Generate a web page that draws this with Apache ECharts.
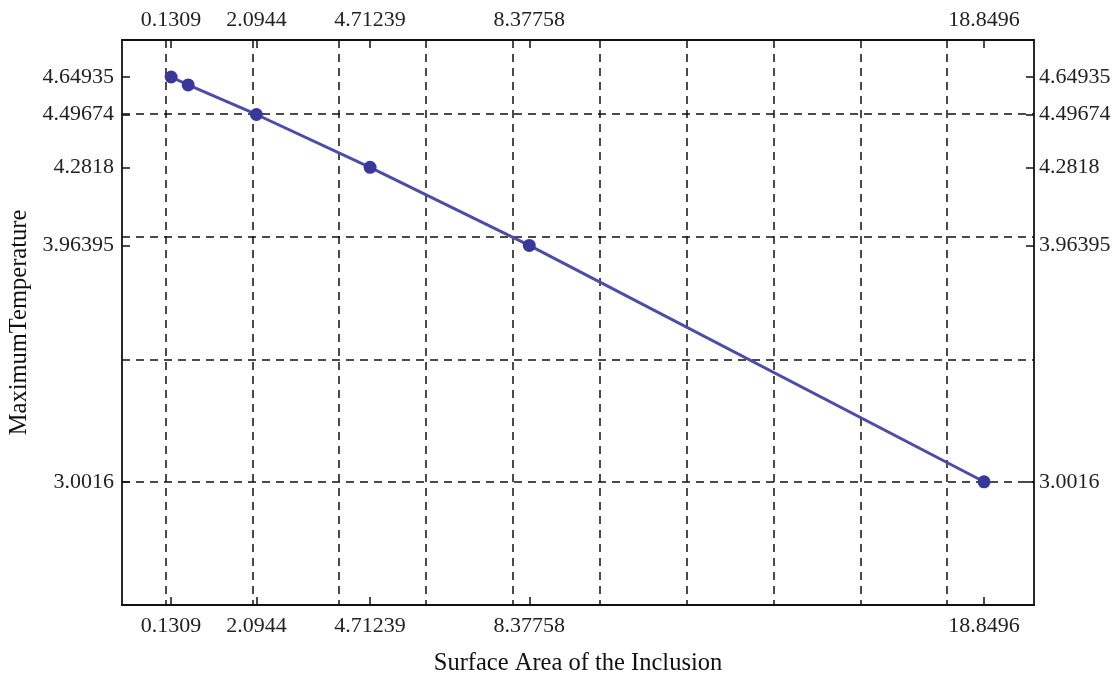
<!DOCTYPE html>
<html>
<head>
<meta charset="utf-8">
<title>Maximum Temperature vs Surface Area of the Inclusion</title>
<script src="https://cdn.jsdelivr.net/npm/echarts@6/dist/echarts.min.js"></script>
<style>
  html, body { margin: 0; padding: 0; background: #ffffff; }
  #chart { width: 1120px; height: 677px; }
</style>
</head>
<body>
<div id="chart"></div>
<script>
// Measured points: inclusion surface area vs maximum temperature
const surfaceArea = [0.1309, 0.5236, 2.0944, 4.71239, 8.37758, 18.8496];
const maxTemperature = [4.64935, 4.617, 4.49674, 4.2818, 3.96395, 3.0016];

// Tick labels placed at the data values
const xTickValues = [0.1309, 2.0944, 4.71239, 8.37758, 18.8496];
const yTickValues = [3.0016, 3.96395, 4.2818, 4.49674, 4.64935];

// Regular dashed grid
const xGridValues = [0, 2, 4, 6, 8, 10, 12, 14, 16, 18];
const yGridValues = [3, 3.5, 4, 4.5];

const X_MIN = -1, X_MAX = 20;
const Y_MIN = 2.5, Y_MAX = 4.8;

const FONT = 'Liberation Serif';
const labelStyle = { fontFamily: FONT, fontSize: 22, color: '#222' };
const frameLine = { show: true, onZero: false, lineStyle: { color: '#111', width: 1.8 } };
const innerTick = (vals) => ({
  show: true, inside: true, length: 8, customValues: vals,
  lineStyle: { color: '#111', width: 1.5 }
});
const dashedGrid = {
  show: true,
  lineStyle: { color: '#111', width: 1.5, type: [8, 6] }
};

const chart = echarts.init(document.getElementById('chart'), null, { renderer: 'canvas' });

chart.setOption({
  backgroundColor: '#ffffff',
  animation: false,
  grid: {
    left: 122, right: 86, top: 40, bottom: 72,
    containLabel: false, outerBoundsMode: 'none'
  },
  xAxis: [
    { // grid lines only
      type: 'value', min: X_MIN, max: X_MAX, position: 'bottom',
      axisLine: { show: false }, axisLabel: { show: false },
      axisTick: { show: false, customValues: xGridValues },
      splitLine: dashedGrid
    },
    { // bottom frame with labels
      type: 'value', min: X_MIN, max: X_MAX, position: 'bottom',
      axisLine: frameLine,
      axisTick: innerTick(xTickValues),
      axisLabel: Object.assign({ customValues: xTickValues, margin: 10,
        formatter: v => String(v) }, labelStyle),
      splitLine: { show: false },
      name: 'Surface Area of the Inclusion',
      nameLocation: 'middle', nameGap: 46,
      nameTextStyle: { fontFamily: FONT, fontSize: 24.5, color: '#111' }
    },
    { // top frame with labels
      type: 'value', min: X_MIN, max: X_MAX, position: 'top',
      axisLine: frameLine,
      axisTick: innerTick(xTickValues),
      axisLabel: Object.assign({ customValues: xTickValues, margin: 9,
        formatter: v => String(v) }, labelStyle),
      splitLine: { show: false }
    }
  ],
  yAxis: [
    { // left frame with labels
      type: 'value', min: Y_MIN, max: Y_MAX, position: 'left',
      axisLine: frameLine,
      axisTick: innerTick(yTickValues),
      axisLabel: Object.assign({ customValues: yTickValues, margin: 8,
        formatter: v => String(v) }, labelStyle),
      splitLine: { show: false },
      name: 'MaximumTemperature',
      nameLocation: 'middle', nameGap: 88,
      nameTextStyle: { fontFamily: FONT, fontSize: 24.5, color: '#111' }
    },
    { // right frame with labels
      type: 'value', min: Y_MIN, max: Y_MAX, position: 'right',
      axisLine: frameLine,
      axisTick: innerTick(yTickValues),
      axisLabel: Object.assign({ customValues: yTickValues, margin: 5,
        formatter: v => String(v) }, labelStyle),
      splitLine: { show: false }
    },
    { // grid lines only
      type: 'value', min: Y_MIN, max: Y_MAX, position: 'left',
      axisLine: { show: false }, axisLabel: { show: false },
      axisTick: { show: false, customValues: yGridValues },
      splitLine: dashedGrid
    }
  ],
  series: [{
    type: 'line',
    xAxisIndex: 1,
    yAxisIndex: 0,
    data: surfaceArea.map((x, i) => [x, maxTemperature[i]]),
    symbol: 'circle',
    symbolSize: 13,
    showAllSymbol: true,
    lineStyle: { color: '#4c4cab', width: 3 },
    itemStyle: { color: '#38379b' },
    z: 5
  }]
});
</script>
</body>
</html>
